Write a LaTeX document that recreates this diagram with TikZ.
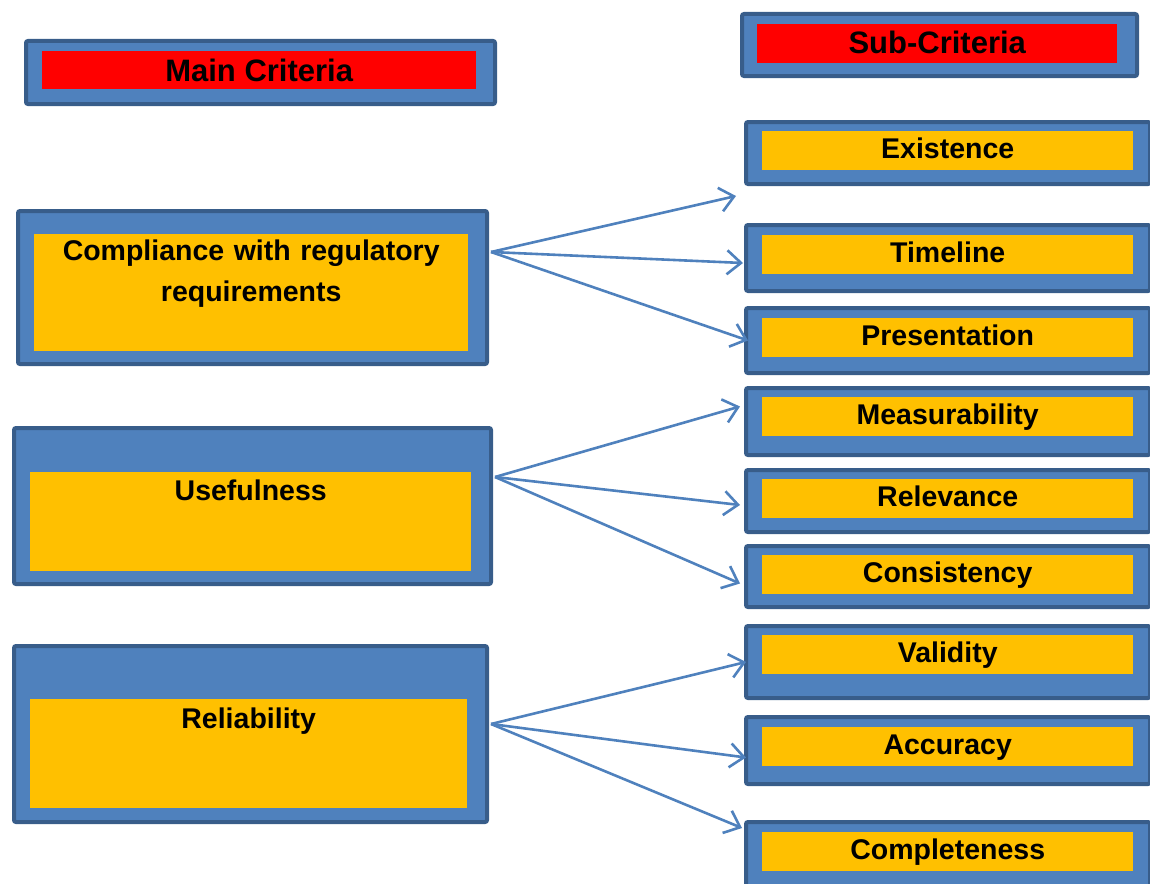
\documentclass[tikz,border=0pt]{standalone}
\usepackage{fontspec}
\setmainfont{Liberation Sans}
\usetikzlibrary{arrows.meta,calc}
\definecolor{crfill}{RGB}{79,129,189}
\definecolor{credge}{RGB}{56,93,138}
\definecolor{crgold}{RGB}{255,192,0}
\definecolor{crred}{RGB}{255,0,0}
\tikzset{
  outerbox/.style={
    draw=credge, fill=crfill, line width=4pt, rounded corners=2pt,
    inner sep=0pt, anchor=north west
  },
  crbox/.style={
    fill=crgold, inner sep=0pt, anchor=north west, align=center,
    font=\bfseries\fontsize{28.5}{41}\selectfont
  },
  hdbox/.style={crbox, fill=crred, font=\bfseries\fontsize{31}{36}\selectfont,
    text height=30pt, text depth=8pt},
  subbox/.style={crbox, minimum width=371pt, text height=27pt, text depth=12pt},
  arr/.style={-{Straight Barb[length=14pt,width=24pt]}, draw=crfill, line width=2.6pt}
}

\begin{document}
\begin{tikzpicture}[x=1pt, y=-1pt]
  \useasboundingbox (0,0) rectangle (1150,883);

  % column headings
  \node[outerbox, minimum width=469pt, minimum height=63pt] (mainhd) at (24,39) {};
  \node[hdbox, minimum width=434pt] (mainlbl) at (42,51) {Main Criteria};
  \node[outerbox, minimum width=395pt, minimum height=62pt] (subhd) at (740,12) {};
  \node[hdbox, minimum width=360pt, text height=29pt, text depth=10pt] (sublbl) at (757,24) {Sub-Criteria};

  % main criteria
  \node[outerbox, minimum width=469pt, minimum height=153pt] (cmp) at (16,209) {};
  \node[crbox, text width=434pt, text height=26pt, text depth=91pt] (cmplbl) at (34,234)
    {Compliance with regulatory\\requirements};
  \node[outerbox, minimum width=477pt, minimum height=156pt] (use) at (12,426) {};
  \node[crbox, minimum width=441pt, text height=28pt, text depth=71pt] (uselbl) at (30,472) {Usefulness};
  \node[outerbox, minimum width=473pt, minimum height=176pt] (rel) at (12,644) {};
  \node[crbox, minimum width=437pt, text height=29pt, text depth=80pt] (rellbl) at (30,699) {Reliability};

  % sub-criteria
  \node[outerbox, minimum width=404pt, minimum height=62pt] (ex) at (744,120) {};
  \node[subbox] (exlbl) at (762,131) {Existence};
  \node[outerbox, minimum width=404pt, minimum height=66pt] (tl) at (744,223) {};
  \node[subbox] (tllbl) at (762,235) {Timeline};
  \node[outerbox, minimum width=404pt, minimum height=65pt] (pr) at (744,306) {};
  \node[subbox] (prlbl) at (762,318) {Presentation};
  \node[outerbox, minimum width=404pt, minimum height=67pt] (ms) at (744,386) {};
  \node[subbox] (mslbl) at (762,397) {Measurability};
  \node[outerbox, minimum width=404pt, minimum height=62pt] (rv) at (744,468) {};
  \node[subbox] (rvlbl) at (762,479) {Relevance};
  \node[outerbox, minimum width=404pt, minimum height=61pt] (cs) at (744,544) {};
  \node[subbox] (cslbl) at (762,555) {Consistency};
  \node[outerbox, minimum width=404pt, minimum height=72pt] (vd) at (744,624) {};
  \node[subbox] (vdlbl) at (762,635) {Validity};
  \node[outerbox, minimum width=404pt, minimum height=67pt] (ac) at (744,715) {};
  \node[subbox] (aclbl) at (762,727) {Accuracy};
  \node[outerbox, minimum width=404pt, minimum height=80pt] (cp) at (744,820) {};
  \node[subbox] (cplbl) at (762,832) {Completeness};

  % links
  \draw[arr] ($(cmp.north east)+(2,43)$) -- ($(ex.south west)+(-8,10)$);
  \draw[arr] ($(cmp.north east)+(2,43)$) -- ($(tl.west)+(-1,5)$);
  \draw[arr] ($(cmp.north east)+(2,43)$) -- ($(pr.west)+(4,0)$);
  \draw[arr] ($(use.north east)+(2,51)$) -- ($(ms.west)+(-4,-15)$);
  \draw[arr] ($(use.north east)+(2,51)$) -- ($(rv.west)+(-4,4)$);
  \draw[arr] ($(use.north east)+(2,51)$) -- ($(cs.west)+(-4,7)$);
  \draw[arr] ($(rel.north east)+(2,80)$) -- ($(vd.west)+(2,0)$);
  \draw[arr] ($(rel.north east)+(2,80)$) -- ($(ac.west)+(2,7)$);
  \draw[arr] ($(rel.north east)+(2,80)$) -- ($(cp.north west)+(-2,8)$);
\end{tikzpicture}
\end{document}
